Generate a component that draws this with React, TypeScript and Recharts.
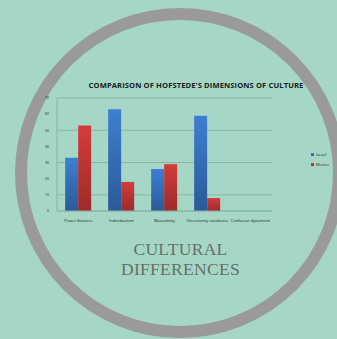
import React from "react";
import { BarChart, Bar, XAxis, YAxis, CartesianGrid, Legend } from "recharts";

const categories = [
  "Power distance",
  "Individualism",
  "Masculinity",
  "Uncertainty avoidance",
  "Confucian dynamism",
];
const israel = [33, 63, 26, 59, 0];
const mexico = [53, 18, 29, 8, 0];
const yTicks = [0, 10, 20, 30, 40, 50, 60, 70];

const data = categories.map((name, i) => ({
  name,
  Israel: israel[i],
  Mexico: mexico[i],
}));

const BG = "#a6d7c6";

export default function App() {
  return (
    <div
      style={{
        position: "absolute",
        left: 0,
        top: 0,
        width: 337,
        height: 339,
        overflow: "hidden",
        background: BG,
      }}
    >
      {/* ring */}
      <div
        style={{
          position: "absolute",
          left: 180 - 165,
          top: 173 - 165,
          width: 330 - 24,
          height: 330 - 24,
          border: "12px solid #9a9a9a",
          borderRadius: "50%",
        }}
      />
      <div
        style={{
          position: "absolute",
          left: 86,
          top: 80,
          width: 220,
          textAlign: "center",
          fontFamily: "'Open Sans', sans-serif",
          fontWeight: 700,
          fontSize: 7.6,
          letterSpacing: 0.1,
          color: "#17211c",
          whiteSpace: "nowrap",
        }}
      >
        COMPARISON OF HOFSTEDE'S DIMENSIONS OF CULTURE
      </div>
      <div style={{ position: "absolute", left: 0, top: 0 }}>
        <BarChart
          width={337}
          height={339}
          data={data}
          margin={{ top: 98, right: 35, bottom: 118, left: 49 }}
          barCategoryGap="19%"
          barGap={0}
        >
          <defs>
            <linearGradient id="gBlue" x1="0" y1="0" x2="0" y2="1">
              <stop offset="0%" stopColor="#3f7fd0" />
              <stop offset="100%" stopColor="#2a5a98" />
            </linearGradient>
            <linearGradient id="gRed" x1="0" y1="0" x2="0" y2="1">
              <stop offset="0%" stopColor="#d43c3c" />
              <stop offset="100%" stopColor="#9e2a2a" />
            </linearGradient>
          </defs>
          <CartesianGrid vertical={false} stroke="#8ab4a4" strokeWidth={1} />
          <XAxis
            dataKey="name"
            interval={0}
            tickLine={false}
            axisLine={{ stroke: "#8ab4a4" }}
            tick={{ fontSize: 4, fill: "#17211c", fontFamily: "'Open Sans', sans-serif" }}
            tickMargin={2}
            height={10}
          />
          <YAxis
            domain={[0, 70]}
            ticks={yTicks}
            width={8}
            tickLine={false}
            axisLine={{ stroke: "#8ab4a4" }}
            tick={{ fontSize: 3.5, fill: "#17211c", fontFamily: "'Open Sans', sans-serif" }}
            tickMargin={2}
          />
          <Legend
            layout="vertical"
            align="right"
            verticalAlign="top"
            iconType="square"
            iconSize={3}
            wrapperStyle={{
              position: "absolute",
              left: 311,
              top: 150,
              width: 30,
              fontSize: 4,
              lineHeight: "10px",
              fontFamily: "'Open Sans', sans-serif",
            }}
            formatter={(value: string) => (
              <span style={{ color: "#17211c", marginLeft: -2 }}>{value}</span>
            )}
          />
          <Bar dataKey="Israel" fill="url(#gBlue)" legendType="square" isAnimationActive={false} />
          <Bar dataKey="Mexico" fill="url(#gRed)" legendType="square" isAnimationActive={false} />
        </BarChart>
      </div>
      <div
        style={{
          position: "absolute",
          left: 0,
          top: 239,
          width: 361,
          textAlign: "center",
          fontFamily: "'Liberation Serif', 'DejaVu Serif', serif",
          fontSize: 17.5,
          lineHeight: "20px",
          color: "#687069",
          letterSpacing: 0.3,
        }}
      >
        CULTURAL
        <br />
        DIFFERENCES
      </div>
    </div>
  );
}
